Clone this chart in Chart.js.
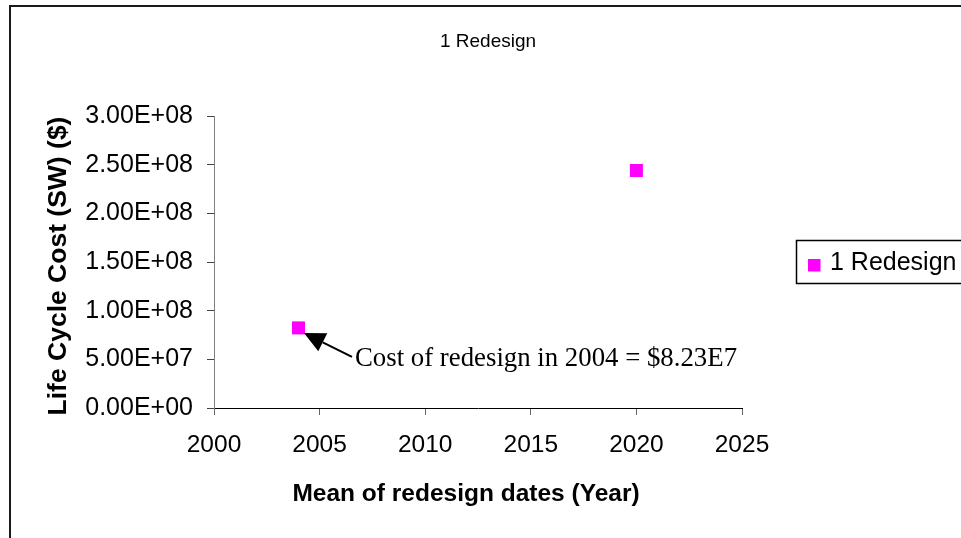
<!DOCTYPE html>
<html>
<head>
<meta charset="utf-8">
<title>1 Redesign</title>
<script src="https://cdn.jsdelivr.net/npm/chart.js@4.4.1/dist/chart.umd.min.js"></script>
<style>
  html, body { margin: 0; padding: 0; background: #fff; }
  canvas { display: block; }
</style>
</head>
<body>
<canvas id="lcc" width="961" height="538"></canvas>
<script>
// Mean redesign date (year) and software life-cycle cost ($) for the single-redesign case
const years = [2004, 2020];
const costs = [8.23e7, 2.44e8];

const seriesName = '1 Redesign';
const chartTitle = '1 Redesign';
const xTitle = 'Mean of redesign dates (Year)';
const yTitle = 'Life Cycle Cost (SW) ($)';

const xMin = 2000, xMax = 2025, xStep = 5;
const yMin = 0, yMax = 3e8, yStep = 5e7;

// Excel-style scientific notation: 2.50E+08
function sci(v) {
  if (v === 0) return '0.00E+00';
  const e = Math.floor(Math.log10(Math.abs(v)) + 1e-9);
  const m = v / Math.pow(10, e);
  return m.toFixed(2) + 'E' + (e < 0 ? '-' : '+') + String(Math.abs(e)).padStart(2, '0');
}

// Callout text for the first redesign, built from the plotted value
const calloutText = 'Cost of redesign in ' + years[0] + ' = $' + (costs[0] / 1e7).toFixed(2) + 'E7';

const SANS = '"Liberation Sans", Arial, sans-serif';
const SERIF = '"Liberation Serif", "Times New Roman", serif';
const MARKER = '#FF00FF';

const decorations = {
  id: 'decorations',
  afterDraw(chart) {
    const ctx = chart.ctx;
    const xs = chart.scales.x, ys = chart.scales.y;
    ctx.save();

    // outer frame
    ctx.strokeStyle = '#1a1a1a';
    ctx.lineWidth = 2;
    ctx.strokeRect(10, 6, 1100, 800);

    // chart title
    ctx.fillStyle = '#000';
    ctx.font = '19px ' + SANS;
    ctx.textAlign = 'center';
    ctx.textBaseline = 'alphabetic';
    ctx.fillText(chartTitle, 488, 47);

    // x axis title
    ctx.font = 'bold 24.5px ' + SANS;
    ctx.fillText(xTitle, 466, 500.5);

    // y axis title
    ctx.save();
    ctx.translate(66, 266);
    ctx.rotate(-Math.PI / 2);
    ctx.font = 'bold 26.5px ' + SANS;
    ctx.textAlign = 'center';
    ctx.fillText(yTitle, 0, 0);
    ctx.restore();

    // legend
    ctx.strokeStyle = '#000';
    ctx.lineWidth = 1.5;
    ctx.strokeRect(796.5, 240.5, 300, 43);
    ctx.fillStyle = MARKER;
    ctx.fillRect(808, 259, 12.5, 12.5);
    ctx.fillStyle = '#000';
    ctx.font = '25px ' + SANS;
    ctx.textAlign = 'left';
    ctx.fillText(seriesName, 830, 270);

    // callout with arrow pointing at the 2004 point
    const px = xs.getPixelForValue(years[0]);
    const py = ys.getPixelForValue(costs[0]);
    const tip = { x: px + 5.5, y: py + 5 };
    const tail = { x: px + 53.5, y: py + 29 };
    const dx = tip.x - tail.x, dy = tip.y - tail.y;
    const len = Math.hypot(dx, dy);
    const ux = dx / len, uy = dy / len;
    const headLen = 21, headHalf = 10;
    const bx = tip.x - ux * headLen, by = tip.y - uy * headLen;
    ctx.strokeStyle = '#000';
    ctx.lineWidth = 2;
    ctx.beginPath();
    ctx.moveTo(tail.x, tail.y);
    ctx.lineTo(bx, by);
    ctx.stroke();
    ctx.beginPath();
    ctx.moveTo(tip.x, tip.y);
    ctx.lineTo(bx - uy * headHalf, by + ux * headHalf);
    ctx.lineTo(bx + uy * headHalf, by - ux * headHalf);
    ctx.closePath();
    ctx.fillStyle = '#000';
    ctx.fill();

    ctx.font = '26.8px ' + SERIF;
    ctx.textAlign = 'left';
    ctx.fillText(calloutText, px + 56.5, py + 38);

    ctx.restore();
  }
};

new Chart(document.getElementById('lcc'), {
  type: 'scatter',
  data: {
    datasets: [{
      label: seriesName,
      data: years.map((y, i) => ({ x: y, y: costs[i] })),
      pointStyle: 'rect',
      pointRadius: 9.2,
      pointBackgroundColor: MARKER,
      pointBorderWidth: 0,
      showLine: false
    }]
  },
  options: {
    responsive: false,
    animation: false,
    events: [],
    layout: { padding: { left: 0, top: 116, right: 961 - 742, bottom: 0 } },
    plugins: {
      legend: { display: false },
      title: { display: false },
      tooltip: { enabled: false }
    },
    scales: {
      x: {
        type: 'linear',
        min: xMin, max: xMax,
        afterFit(s) { s.height = 130; },
        border: { color: '#000', width: 1 },
        grid: { drawOnChartArea: false, drawTicks: true, tickLength: 7, tickColor: '#666' },
        ticks: {
          stepSize: xStep,
          color: '#000',
          padding: 16,
          maxRotation: 0,
          font: { family: SANS, size: 24.5 },
          callback: v => String(v)
        }
      },
      y: {
        type: 'linear',
        min: yMin, max: yMax,
        afterFit(s) { s.width = 214; },
        border: { color: '#808080', width: 1 },
        grid: { drawOnChartArea: false, drawTicks: true, tickLength: 7, tickColor: '#444' },
        ticks: {
          stepSize: yStep,
          color: '#000',
          padding: 14,
          font: { family: SANS, size: 25 },
          callback: v => sci(v)
        }
      }
    }
  },
  plugins: [decorations]
});
</script>
</body>
</html>
